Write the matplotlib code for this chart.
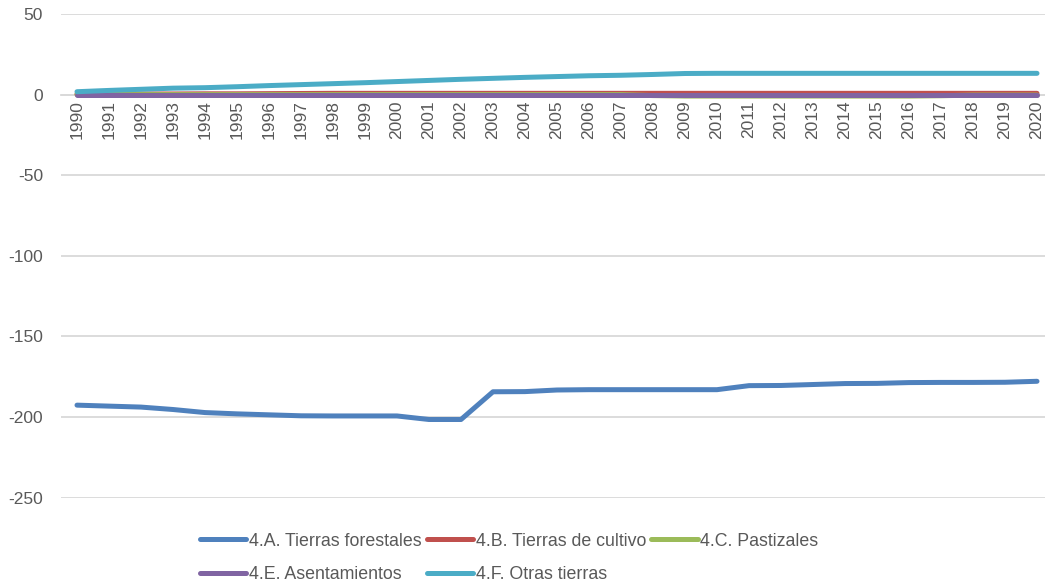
import numpy as np
import matplotlib
matplotlib.use('Agg')
import matplotlib.pyplot as plt

plt.rcParams['font.family'] = ['Liberation Sans', 'DejaVu Sans']
plt.rcParams['axes.unicode_minus'] = False

years = [str(y) for y in range(1990, 2021)]

forestales = [-192.6, -193.2, -193.8, -195.3, -197.2, -198.0, -198.6, -199.2, -199.3, -199.3,
              -199.3, -201.5, -201.5, -184.3, -184.2, -183.2, -183.0, -183.0, -183.0, -183.0,
              -183.0, -180.5, -180.4, -179.8, -179.2, -179.1, -178.6, -178.5, -178.5, -178.4,
              -177.8]
cultivo = [0.3, 0.3, 0.4, 0.4, 0.5, 0.5, 0.6, 0.7, 0.8, 0.8,
           0.8, 0.8, 0.8, 0.8, 0.8, 0.8, 0.8, 0.8, 0.8, 0.8,
           0.8, 0.8, 0.8, 0.8, 0.8, 0.8, 0.8, 0.8, 0.8, 0.8,
           0.8]
pastizales = [0.0, 0.0, 0.0, 0.0, 0.0, 0.0, 0.0, 0.0, 0.0, 0.0,
              0.0, 0.0, 0.0, 0.0, 0.0, 0.0, 0.0, 0.0, -0.6, -0.9,
              -0.9, -0.9, -0.9, -0.9, -0.9, -0.9, -0.9, -0.7, -0.3, -0.3,
              -0.3]
asentamientos = [-0.2] * 31
otras = [1.8, 2.6, 3.3, 4.0, 4.3, 4.9, 5.6, 6.2, 6.8, 7.4,
         8.1, 8.8, 9.5, 10.1, 10.7, 11.2, 11.7, 12.0, 12.5, 13.1,
         13.2, 13.2, 13.2, 13.2, 13.2, 13.2, 13.2, 13.2, 13.2, 13.2,
         13.2]

series = [
    ('4.A. Tierras forestales', forestales, '#4F81BD'),
    ('4.B. Tierras de cultivo', cultivo, '#C0504D'),
    ('4.C. Pastizales', pastizales, '#9BBB59'),
    ('4.E. Asentamientos', asentamientos, '#8064A2'),
    ('4.F. Otras tierras', otras, '#4BACC6'),
]

W, H = 1045, 588
fig = plt.figure(figsize=(W / 100, H / 100), dpi=100)
ax = fig.add_axes([61 / W, 1 - 497.7 / H, 992 / W, (497.7 - 14) / H])

x = np.arange(len(years))
lines = {}
for name, vals, col in series:
    ln, = ax.plot(x, vals, color=col, lw=3.6, solid_capstyle='round', label=name, zorder=3)
    lines[name] = ln

txt = '#595959'
grid = '#D9D9D9'
ax.set_xlim(-0.5, len(years) - 0.5)
ax.set_ylim(-250, 50)
ax.set_yticks(np.arange(-250, 51, 50))
ax.yaxis.grid(True, color=grid, lw=1.3)
ax.set_axisbelow(True)
for s in ['top', 'right', 'left']:
    ax.spines[s].set_visible(False)
ax.spines['bottom'].set_position(('data', 0))
ax.spines['bottom'].set_color(grid)
ax.spines['bottom'].set_linewidth(1.3)
ax.spines['bottom'].set_zorder(1)
ax.set_xticks(x)
ax.set_xticklabels(years, rotation=90)
ax.tick_params(axis='x', length=0, pad=4, labelsize=12.5, labelcolor=txt)
ax.tick_params(axis='y', length=0, pad=13, labelsize=12.5, labelcolor=txt)

# row-major order across 3 columns
order = ['4.A. Tierras forestales', '4.E. Asentamientos', '4.B. Tierras de cultivo',
         '4.F. Otras tierras', '4.C. Pastizales']
leg = fig.legend([lines[n] for n in order], order, ncol=3, loc='center',
                 bbox_to_anchor=(509 / W, 1 - 558 / H), frameon=False,
                 fontsize=12.8, handlelength=2.64, handletextpad=0.12,
                 columnspacing=0.3, labelspacing=0.95, borderpad=0)
for t in leg.get_texts():
    t.set_color(txt)

fig.savefig('out.png', dpi=100)
